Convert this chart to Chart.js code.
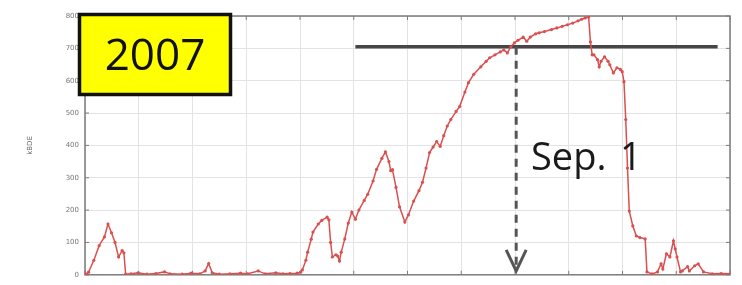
<!DOCTYPE html>
<html>
<head>
<meta charset="utf-8">
<script src="https://cdn.jsdelivr.net/npm/chart.js@4/dist/chart.umd.min.js"></script>
<style>
  html, body { margin: 0; padding: 0; background: #fff; }
</style>
</head>
<body>
<canvas id="chart" width="742" height="285"></canvas>
<script>
// Day of year and value
const days = [0, 1, 2, 5, 8, 11, 13, 15, 17, 19, 21, 22, 23, 26, 30, 35, 40, 45, 48, 55,
  60, 65, 68, 70, 72, 76, 82, 88, 92, 98, 102, 108, 112, 116, 120, 122, 123, 125, 126, 128,
  129, 132, 134, 137, 138, 139, 140, 142, 143, 144, 145, 147, 149, 151, 153, 155, 158, 160, 163, 165,
  168, 170, 172, 173, 174, 176, 178, 181, 183, 186, 189, 191, 193, 195, 197, 199, 201, 203, 205, 207,
  210, 212, 215, 217, 220, 224, 227, 229, 232, 235, 237, 239, 241, 243, 245, 248, 250, 252, 255, 257,
  260, 264, 267, 270, 273, 276, 279, 281, 283, 285, 286, 287, 288, 290, 291, 292, 294, 296, 297, 299,
  301, 303, 304, 305, 306, 307, 308, 310, 312, 314, 317, 318, 321, 324, 326, 327, 329, 331, 333, 334,
  335, 337, 338, 341, 342, 345, 347, 350, 355, 360, 365];
const values = [5, 0, 8, 45, 90, 117, 157, 130, 100, 55, 75, 68, 2, 3, 6, 2, 4, 9, 3, 2,
  5, 3, 12, 35, 6, 2, 3, 5, 3, 12, 3, 6, 3, 4, 5, 8, 15, 45, 70, 110,
  132, 157, 168, 178, 170, 100, 55, 62, 58, 43, 70, 111, 160, 194, 172, 200, 230, 249, 290, 326,
  360, 380, 350, 322, 325, 270, 210, 163, 185, 228, 260, 286, 330, 378, 395, 412, 397, 430, 460, 480,
  505, 520, 565, 594, 620, 643, 660, 671, 680, 689, 695, 686, 705, 717, 725, 735, 722, 735, 745, 748,
  752, 758, 763, 768, 773, 778, 785, 790, 794, 797, 720, 680, 680, 665, 643, 660, 674, 660, 649, 624,
  640, 635, 628, 597, 480, 330, 197, 151, 120, 115, 111, 9, 3, 9, 34, 18, 65, 55, 105, 80,
  55, 9, 12, 25, 12, 28, 34, 9, 3, 4, 3];

// Threshold line and the Sep. 1 marker
const thresholdValue = 705;
const thresholdDays = [153, 358];
const markerDay = 244;
const markerValues = [705, 12];

const yTicks = [0, 100, 200, 300, 400, 500, 600, 700, 800];
const yTitle = 'kBDE';
const yearLabel = '2007';
const markerLabel = 'Sep.';
const markerLabel2 = '1';

const framePlugin = {
  id: 'frame',
  beforeDatasetsDraw(chart) {
    const {ctx, chartArea: a, scales: {x, y}} = chart;
    ctx.save();
    ctx.strokeStyle = '#7c7c7c';
    ctx.lineWidth = 1.5;
    ctx.strokeRect(a.left, a.top, a.right - a.left, a.bottom - a.top);
    ctx.lineWidth = 1;
    ctx.beginPath();
    y.ticks.forEach(t => {
      const py = y.getPixelForValue(t.value);
      ctx.moveTo(a.left, py); ctx.lineTo(a.left + 4, py);
      ctx.moveTo(a.right, py); ctx.lineTo(a.right - 4, py);
    });
    x.ticks.forEach(t => {
      const px = x.getPixelForValue(t.value);
      ctx.moveTo(px, a.top); ctx.lineTo(px, a.top + 4);
      ctx.moveTo(px, a.bottom); ctx.lineTo(px, a.bottom - 4);
    });
    ctx.stroke();
    ctx.restore();
  },
  afterDatasetsDraw(chart) {
    // arrow head at the end of the dashed marker
    const {ctx} = chart;
    const meta = chart.getDatasetMeta(2);
    const p = meta.data[meta.data.length - 1];
    ctx.save();
    ctx.strokeStyle = '#555';
    ctx.lineWidth = 3;
    ctx.beginPath();
    ctx.moveTo(p.x - 10, p.y - 21);
    ctx.lineTo(p.x, p.y);
    ctx.lineTo(p.x + 10, p.y - 21);
    ctx.stroke();
    ctx.restore();
  },
  afterDraw(chart) {
    const {ctx} = chart;
    ctx.save();
    // yellow year box
    ctx.fillStyle = '#ffff00';
    ctx.fillRect(79, 14, 152, 81);
    ctx.strokeStyle = '#111';
    ctx.lineWidth = 3.5;
    ctx.strokeRect(79.5, 14.5, 151, 80);
    ctx.fillStyle = '#111';
    ctx.font = '500 44px "Open Sans"';
    ctx.textAlign = 'center';
    ctx.textBaseline = 'alphabetic';
    ctx.fillText(yearLabel, 155, 70);
    // Sep. 1 label
    ctx.textAlign = 'left';
    ctx.font = '38px "Open Sans"';
    ctx.fillStyle = '#1a1a1a';
    ctx.fillText(markerLabel, 531, 170);
    ctx.fillText(markerLabel2, 620, 170);
    ctx.restore();
  }
};

new Chart(document.getElementById('chart'), {
  type: 'line',
  data: {
    datasets: [
      {
        data: days.map((d, i) => ({x: d, y: values[i]})),
        borderColor: '#d9504f',
        backgroundColor: '#d9504f',
        borderWidth: 1.5,
        pointRadius: 1.6,
        pointBorderWidth: 0,
        tension: 0,
        order: 0
      },
      {
        data: thresholdDays.map(d => ({x: d, y: thresholdValue})),
        borderColor: '#464646',
        borderWidth: 3.5,
        pointRadius: 0,
        order: 2
      },
      {
        data: markerValues.map(v => ({x: markerDay, y: v})),
        borderColor: '#555',
        borderWidth: 3,
        borderDash: [8, 6],
        pointRadius: 0,
        order: 1
      }
    ]
  },
  options: {
    responsive: false,
    animation: false,
    events: [],
    layout: { padding: { left: 24, top: 16, right: 12, bottom: 0 } },
    plugins: {
      legend: { display: false },
      tooltip: { enabled: false }
    },
    scales: {
      x: {
        type: 'linear',
        min: 0,
        max: 365,
        afterBuildTicks: s => { s.ticks = Array.from({length: 13}, (_, i) => ({value: i * 365 / 12})); },
        afterFit: s => { s.height = 9; },
        ticks: { display: false },
        grid: { color: '#e3e3e3', drawTicks: false },
        border: { display: false }
      },
      y: {
        min: 0,
        max: 800,
        afterBuildTicks: s => { s.ticks = yTicks.map(v => ({value: v})); },
        afterFit: s => { s.width = 61; },
        ticks: { font: { size: 7, family: 'DejaVu Sans' }, color: '#777', padding: 6 },
        grid: { color: '#e3e3e3', drawTicks: false },
        border: { display: false },
        title: { display: true, text: yTitle, font: { size: 7, family: 'DejaVu Sans' }, color: '#666', padding: 2 }
      }
    }
  },
  plugins: [framePlugin]
});
</script>
</body>
</html>
